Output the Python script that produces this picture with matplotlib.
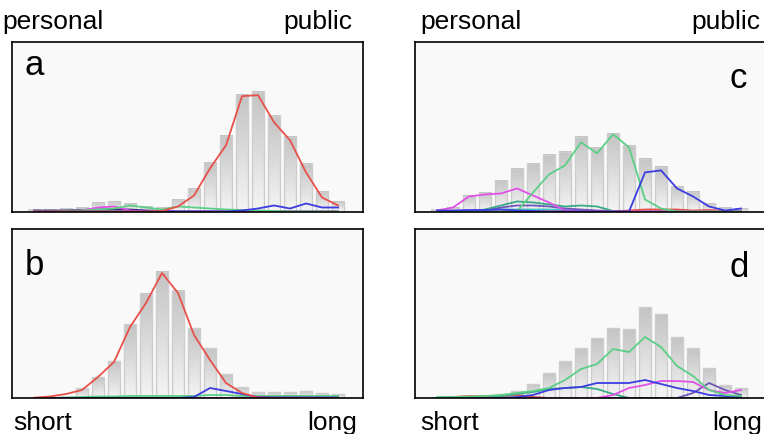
import numpy as np
import matplotlib.pyplot as plt
from matplotlib.colors import LinearSegmentedColormap

plt.rcParams['font.family'] = ['Liberation Sans', 'DejaVu Sans']

bins = np.arange(20)

# panel a
a_bars = [1, 1, 2, 3, 8, 9, 7, 4, 3, 11, 22, 48, 75, 116, 119, 95, 74, 47, 19, 9]
a_red = [0, 0, 0, 0, 0, 0, 0, 0, 0.5, 5, 16, 43, 66, 115, 116, 89, 71, 39, 14, 6]
a_green = [0, 0, 0.5, 1, 2, 3, 6, 4, 2, 5, 4, 3, 2, 1.5, 1, 0.5, 0, 0, 0, 0]
a_magenta = [0, 0, 0, 1, 4, 5, 1, 0, 0, 0, 0, 0, 0, 0, 0, 0, 0, 0, 0, 0]
a_navy = [1, 1, 1, 1.5, 2, 2, 2, 1, 0.5, 0, 0, 0, 0, 0, 0, 0, 0, 0, 0, 0]
a_blue = [0, 0, 0, 0, 0, 0, 0, 0, 0, 0, 0, 0, 0, 1, 3, 6, 3, 8, 4, 4]

# panel b
b_bars = [0, 0.5, 1, 10, 21, 37, 74, 104, 126, 107, 70, 50, 24, 11, 6, 6, 6, 7, 5, 4]
b_red = [0.3, 1.5, 4, 8, 21, 36, 71, 95, 125, 105, 63, 38, 15, 5, 0.5, 0, 0, 0, 0, 0]
b_green = [0, 0, 0.5, 1, 1.5, 1.5, 2, 2, 2, 2, 2, 3, 3, 2, 2, 2, 2, 2, 2, 2]
b_magenta = [0, 0, 0, 0, 0, 0, 0, 0, 0, 0, 0, 0, 0, 0.5, 1, 1.5, 1.5, 1.5, 1, 0.5]
b_blue = [0, 0, 0, 0, 0, 0, 0, 0, 0, 0, 1, 10, 7, 4, 1, 0.5, 0.5, 0.5, 0.5, 0.5]

# panel c
c_bars = [1.5, 3, 15, 18, 30, 42, 47, 56, 59, 74, 63, 77, 65, 52, 44, 24, 19, 7, 3, 2]
c_magenta = [1, 4, 15, 17, 18, 23, 16, 9, 1, 0, 0, 0, 0, 0, 0, 0, 0, 0, 0, 0]
c_teal = [0, 0, 0, 2, 6, 10, 9, 7, 5, 6, 5, 0.5, 0, 0, 0, 0, 0, 0, 0, 0]
c_slate = [0, 0, 0, 1, 4, 6, 6, 5, 3, 2, 1, 0.5, 0, 0, 0, 0, 0, 0, 0, 0]
c_cyan = [0, 0, 0.5, 1, 2, 2, 2, 2, 1.5, 1, 0.5, 0, 0, 0, 0, 0, 0, 0, 0, 0]
c_green = [0, 0, 0, 0, 0, 0, 19, 37, 46, 69, 58, 77, 64, 12, 3, 0, 0, 0, 0, 0]
c_red = [0, 0, 0, 0, 0, 0, 0, 0, 0, 0, 0, 0, 1, 2, 2, 2, 1, 1.5, 0.5, 0]
c_blue = [1, 1, 1.5, 1.5, 2, 1, 0.5, 0, 0, 0, 0, 0, 0, 39, 41, 23, 15, 5, 1, 3]

# panel d
d_bars = [0.5, 0.5, 1, 2, 4, 7, 14, 25, 37, 50, 60, 70, 69, 91, 84, 61, 50, 30, 13, 10]
d_red = [0, 1, 2, 2, 2, 3, 1, 0, 0, 0, 0, 0, 0, 0, 0, 0, 0, 0, 0, 0]
d_teal = [0, 0, 0, 0, 2, 4, 6, 9, 10, 11, 9, 4, 0, 0, 0, 0, 0, 0, 0, 0]
d_slate = [0, 0, 0, 0, 0, 0, 0, 0, 0, 0, 0, 0, 0, 0, 0, 0, 5, 15, 8, 3]
d_magenta = [0, 0, 0, 0, 0, 0, 0, 0, 0, 0, 0, 3, 10, 13, 17, 17, 16, 8, 5, 8]
d_blue = [0, 0, 0, 0, 0, 1, 3, 8, 10, 11, 15, 15, 15, 18, 14, 10, 7, 3, 2, 1]
d_green = [1, 1, 1.5, 2, 3, 5, 7, 10, 18, 29, 34, 49, 46, 61, 51, 32, 22, 8, 3, 2]

RED = '#e8504a'
GREEN = '#5ccf86'
BLUE = '#3c3ce0'
MAGENTA = '#e050e8'
TEAL = '#3aa98a'
SLATE = '#7058b8'
NAVY = '#283080'
CYAN = '#40c4c4'

bar_cmap = LinearSegmentedColormap.from_list('bars', ['#f4f4f4', '#c4c4c4'])
grad = np.linspace(0, 1, 64).reshape(-1, 1)


def draw_panel(ax, bars, lines, letter, letter_pos):
    ax.set_facecolor('#f9f9f9')
    w = 0.8
    for xi, h in zip(bins, bars):
        if h <= 0:
            continue
        ax.imshow(grad, extent=[xi - w / 2, xi + w / 2, 0, h], origin='lower',
                  aspect='auto', cmap=bar_cmap, vmin=0, vmax=1, zorder=1)
    ax.bar(bins, bars, width=w, facecolor='none', edgecolor='#cdcdcd', linewidth=1, zorder=2)
    for vals, col in lines:
        ax.plot(bins, vals, color=col, lw=1.3, zorder=3)
    ax.set_xlim(-1.375, 20.56)
    ax.set_ylim(0, 169)
    ax.set_xticks([])
    ax.set_yticks([])
    for s in ax.spines.values():
        s.set_linewidth(1.2)
        s.set_zorder(5)
    ax.text(letter_pos[0], letter_pos[1], letter, transform=ax.transAxes,
            fontsize=25, va='baseline', ha='left')


W, H = 764, 434
fig = plt.figure(figsize=(W / 100, H / 100), dpi=100)


def px_axes(left, top, right, bottom):
    return fig.add_axes([left / W, 1 - bottom / H, (right - left) / W, (bottom - top) / H])


ax_a = px_axes(12, 42, 363, 211.5)
ax_b = px_axes(12, 229, 363, 398)
ax_c = px_axes(415, 42, 766, 211.5)
ax_d = px_axes(415, 229, 766, 398)

draw_panel(ax_a, a_bars, [(a_navy, NAVY), (a_magenta, MAGENTA), (a_green, GREEN),
                          (a_blue, BLUE), (a_red, RED)], 'a', (0.037, 0.805))
draw_panel(ax_b, b_bars, [(b_magenta, MAGENTA), (b_green, GREEN), (b_blue, BLUE),
                          (b_red, RED)], 'b', (0.037, 0.728))
draw_panel(ax_c, c_bars, [(c_cyan, CYAN), (c_slate, SLATE), (c_teal, TEAL), (c_red, RED),
                          (c_magenta, MAGENTA), (c_green, GREEN), (c_blue, BLUE)],
           'c', (0.897, 0.729))
draw_panel(ax_d, d_bars, [(d_red, RED), (d_teal, TEAL), (d_slate, SLATE), (d_magenta, MAGENTA),
                          (d_blue, BLUE), (d_green, GREEN)], 'd', (0.897, 0.716))

lab = dict(fontsize=19, va='baseline')
fig.text(2 / W, 1 - 29 / H, 'personal', ha='left', **lab)
fig.text(352 / W, 1 - 29 / H, 'public', ha='right', **lab)
fig.text(420 / W, 1 - 29 / H, 'personal', ha='left', **lab)
fig.text(760 / W, 1 - 29 / H, 'public', ha='right', **lab)
fig.text(13 / W, 1 - 430 / H, 'short', ha='left', **lab)
fig.text(357 / W, 1 - 430 / H, 'long', ha='right', **lab)
fig.text(420 / W, 1 - 430 / H, 'short', ha='left', **lab)
fig.text(762 / W, 1 - 430 / H, 'long', ha='right', **lab)

fig.savefig('out.png', dpi=100)
